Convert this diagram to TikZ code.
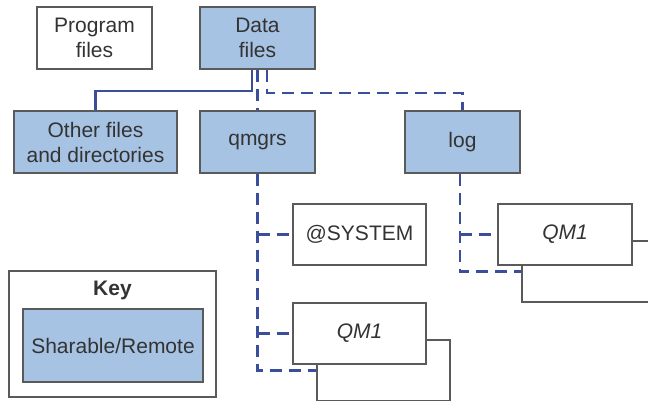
\documentclass[tikz,border=0pt]{standalone}
\usepackage{fontspec}
\setmainfont{Liberation Sans}
\definecolor{boxfill}{HTML}{A7C3E4}
\definecolor{linkblue}{HTML}{3B4E9C}
\definecolor{boxline}{HTML}{5A5A5A}
\definecolor{txt}{HTML}{333333}
\begin{document}
\begin{tikzpicture}[x=1pt,y=-1pt,
  box/.style={draw=boxline, line width=1.3pt, fill=white, inner sep=0pt, align=center,
    text=txt, font=\fontsize{21}{25}\selectfont, minimum width=115pt, minimum height=62pt},
  shared/.style={box, fill=boxfill},
  slink/.style={draw=linkblue, line width=2.2pt},
  dlink/.style={draw=linkblue, line width=2.2pt, dash pattern=on 12pt off 7pt}]
\path[use as bounding box, fill=white] (0,0) rectangle (648,400);
\clip (0,0) rectangle (648,400);
% boxes
\node[box] (prog) at (94.5,38) {Program\\files};
\node[shared] (data) at (257.5,38) {Data\\files};
\node[shared, minimum width=163pt] (other) at (95.5,142) {Other files\\and directories};
\node[shared] (qmgrs) at (257.5,142) {qmgrs};
\node[shared] (log) at (462.5,142) {log};
\node[box, minimum width=133pt, minimum height=61pt] (system) at (359.5,234.5) {@SYSTEM};
\node[box, minimum width=133pt, minimum height=61pt] (qmaback) at (383.5,370.5) {};
\node[box, minimum width=133pt, minimum height=61pt] (qma) at (359.5,333.5) {\itshape QM1};
\node[box, minimum width=134pt, minimum height=61pt] (qmbback) at (589,271.5) {};
\node[box, minimum width=134pt, minimum height=61pt] (qmb) at (565,234.5) {\itshape QM1};
% connectors
\draw[slink] ([xshift=-5.5pt]data.south) -- ++(0,21) -| (other.north);
\draw[dlink] (data.south) -- (qmgrs.north);
\draw[dlink] ([xshift=9.5pt]data.south) -- ++(0,23) -| (log.north);
\draw[dlink] (qmgrs.south) |- (qmaback.west);
\draw[dlink] (qmgrs.south |- system.west) -- (system.west);
\draw[dlink] (qmgrs.south |- qma.west) -- (qma.west);
\draw[dlink] ([xshift=-2.5pt]log.south) |- (qmbback.west);
\draw[dlink] ([xshift=-2.5pt]log.south |- qmb.west) -- (qmb.west);
% key
\node[box, fill=none, minimum width=207pt, minimum height=126pt] (key) at (112.5,334) {};
\node[text=txt, font=\fontsize{21}{25}\selectfont\bfseries, inner sep=0pt] (keylabel) at (112.5,290) {Key};
\node[shared, minimum width=180pt, minimum height=73pt] (keyitem) at (113,345.5) {Sharable/Remote};
\end{tikzpicture}
\end{document}
